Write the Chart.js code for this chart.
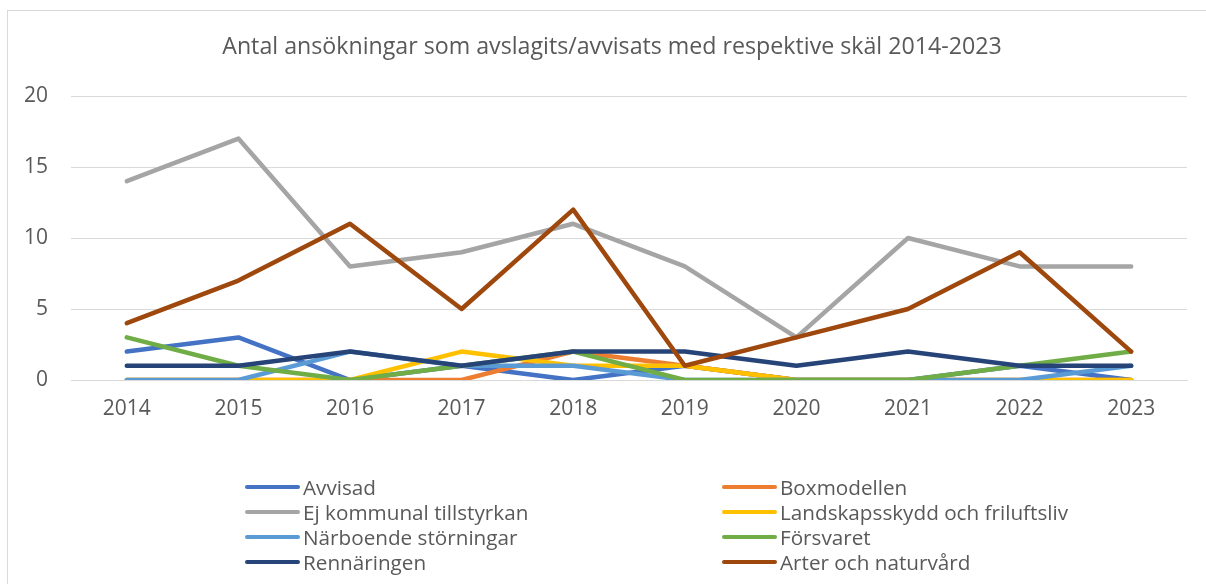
<!DOCTYPE html>
<html>
<head>
<meta charset="utf-8">
<script src="https://cdn.jsdelivr.net/npm/chart.js@4/dist/chart.umd.min.js"></script>
<style>
  html, body { margin: 0; padding: 0; background: #fff; }
  #wrap { position: relative; width: 1206px; height: 584px; overflow: hidden; }
  #frame { position: absolute; left: 7px; top: 10px; width: 1220px; height: 600px; border: 1.5px solid #d9d9d9; box-sizing: border-box; }
  canvas { position: absolute; left: 0; top: 0; }
  #legend { position: absolute; left: 0; top: 0; width: 1206px; height: 584px; pointer-events: none; font-family: "Open Sans", sans-serif; font-size: 20.7px; color: #595959; }
  .item { position: absolute; height: 24px; display: flex; align-items: center; white-space: nowrap; }
  .swatch { display: inline-block; width: 55px; height: 4.5px; border-radius: 3px; margin-right: 3px; }
</style>
</head>
<body>
<div id="wrap">
  <div id="frame"></div>
  <canvas id="c" width="1206" height="584"></canvas>
  <div id="legend"></div>
</div>
<script>
const years = ["2014","2015","2016","2017","2018","2019","2020","2021","2022","2023"];
const seriesNames = ["Avvisad","Boxmodellen","Ej kommunal tillstyrkan","Landskapsskydd och friluftsliv","Närboende störningar","Försvaret","Rennäringen","Arter och naturvård"];
const avvisad        = [2, 3, 0, 1, 0, 1, 0, 0, 1, 0];
const boxmodellen    = [0, 0, 0, 0, 2, 1, 0, 0, 0, 0];
const ejKommunal     = [14, 17, 8, 9, 11, 8, 3, 10, 8, 8];
const landskapsskydd = [0, 0, 0, 2, 1, 1, 0, 0, 0, 0];
const narboende      = [0, 0, 2, 1, 1, 0, 0, 0, 0, 1];
const forsvaret      = [3, 1, 0, 1, 2, 0, 0, 0, 1, 2];
const rennaringen    = [1, 1, 2, 1, 2, 2, 1, 2, 1, 1];
const arter          = [4, 7, 11, 5, 12, 1, 3, 5, 9, 2];
const yTicks = [0, 5, 10, 15, 20];
const titleText = 'Antal ansökningar som avslagits/avvisats med respektive skäl 2014-2023';
const colors = ["#4472C4","#ED7D31","#A5A5A5","#FFC000","#5B9BD5","#70AD47","#264478","#9E480E"];
const allValues = [avvisad, boxmodellen, ejKommunal, landskapsskydd, narboende, forsvaret, rennaringen, arter];

const datasets = allValues.map((vals, i) => ({
  label: seriesNames[i],
  data: vals,
  borderColor: colors[i],
  backgroundColor: colors[i],
  borderWidth: 4.5,
  pointRadius: 0,
  pointHoverRadius: 0,
  tension: 0,
  fill: false,
  borderCapStyle: 'round',
  borderJoinStyle: 'round',
  order: 10 - i
}));

const FONT = '"Open Sans", sans-serif';

const titlePlugin = {
  id: 'excelTitle',
  afterDraw(chart) {
    const ctx = chart.ctx;
    ctx.save();
    ctx.font = '23.2px ' + FONT;
    ctx.fillStyle = '#595959';
    ctx.textAlign = 'center';
    ctx.textBaseline = 'middle';
    ctx.fillText(titleText, 612, 47);
    ctx.restore();
  }
};

new Chart(document.getElementById('c'), {
  type: 'line',
  data: { labels: years, datasets },
  plugins: [titlePlugin],
  options: {
    responsive: false,
    animation: false,
    devicePixelRatio: 1,
    layout: { padding: { left: 0, right: 19, top: 96, bottom: 144 } },
    plugins: {
      legend: { display: false },
      tooltip: { enabled: false },
      title: { display: false }
    },
    scales: {
      x: {
        offset: true,
        grid: { display: false, drawTicks: false },
        border: { display: true, color: '#d9d9d9', width: 1 },
        ticks: { color: '#595959', font: { family: FONT, size: 21 }, padding: 16, maxRotation: 0 },
        afterFit: (s) => { s.height = 60; }
      },
      y: {
        min: 0, max: 20,
        afterBuildTicks: (s) => { s.ticks = yTicks.map(v => ({ value: v })); },
        grid: { color: '#d9d9d9', lineWidth: 1, drawTicks: false },
        border: { display: false },
        ticks: { color: '#595959', font: { family: FONT, size: 21 }, padding: 23 },
        afterFit: (s) => { s.width = 71; }
      }
    }
  }
});

// Legend (two columns, Excel-style)
const legend = document.getElementById('legend');
const rowY = [487, 512, 537, 562];
const colX = [245, 722];
seriesNames.forEach((name, i) => {
  const col = i % 2, row = Math.floor(i / 2);
  const div = document.createElement('div');
  div.className = 'item';
  div.style.left = colX[col] + 'px';
  div.style.top = (rowY[row] - 12) + 'px';
  const sw = document.createElement('span');
  sw.className = 'swatch';
  sw.style.background = colors[i];
  const tx = document.createElement('span');
  tx.textContent = name;
  div.appendChild(sw);
  div.appendChild(tx);
  legend.appendChild(div);
});
</script>
</body>
</html>
